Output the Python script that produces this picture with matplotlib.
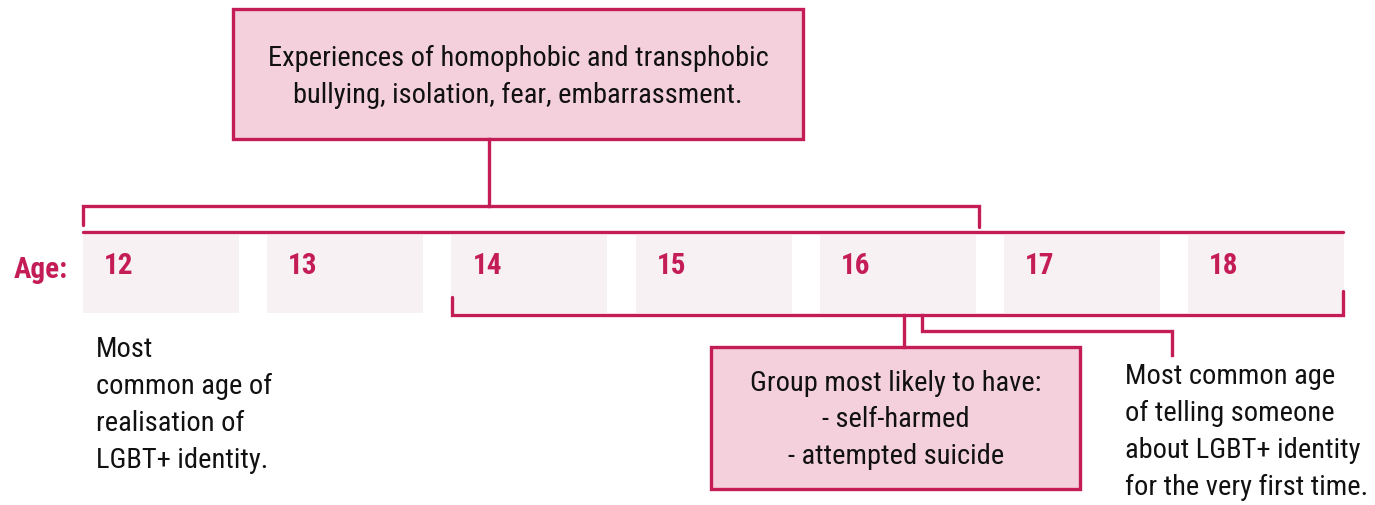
import matplotlib.pyplot as plt
from matplotlib.patches import Rectangle

# labels / text
ages = [12, 13, 14, 15, 16, 17, 18]
top_note = "Experiences of homophobic and transphobic\nbullying, isolation, fear, embarrassment."
group_note = "Group most likely to have:\n- self-harmed\n- attempted suicide"
realise_note = "Most\ncommon age of\nrealisation of\nLGBT+ identity."
telling_note = "Most common age\nof telling someone\nabout LGBT+ identity\nfor the very first time."

red = '#c41c56'
pink = '#f3d0dc'
pale = '#f8f1f4'
font = ['Roboto Condensed', 'DejaVu Sans']
lw = 2.4
fs = 20.5
ls = 1.47

fig = plt.figure(figsize=(13.75, 5.06), dpi=100)
ax = fig.add_axes([0, 0, 1, 1])
ax.set_xlim(0, 1375)
ax.set_ylim(506, 0)
ax.axis('off')

# age row
x0, step, w = 83, 184.2, 156
for i, a in enumerate(ages):
    x = x0 + i * step
    ax.add_patch(Rectangle((x, 236), w, 78, facecolor=pale, edgecolor='none'))
    ax.text(x + 21, 266, str(a), color=red, fontsize=21, fontweight='bold',
            family=font, va='center', ha='left')
ax.text(14, 270, "Age:", color=red, fontsize=21, fontweight='bold',
        family=font, va='center', ha='left')

# top line over the row
ax.plot([83, 1343], [233, 233], color=red, lw=lw, solid_capstyle='round')

# top bracket 12-16
ax.plot([83, 83, 979, 979], [226, 207, 207, 228], color=red, lw=lw,
        solid_capstyle='round', solid_joinstyle='miter')
ax.plot([489, 489], [140, 207], color=red, lw=lw)

# top box
ax.add_patch(Rectangle((233, 10), 570, 130, facecolor=pink, edgecolor=red, lw=lw))
ax.text(518, 77, top_note, family=font, fontsize=fs, ha='center', va='center',
        linespacing=ls, color='#111111')

# bottom bracket 14-18
ax.plot([452, 452, 1343, 1343], [298, 316, 316, 292], color=red, lw=lw,
        solid_capstyle='round', solid_joinstyle='miter')
ax.plot([904, 904], [316, 348], color=red, lw=lw)
ax.plot([922, 922, 1172, 1172], [316, 332, 332, 356], color=red, lw=lw,
        solid_joinstyle='miter')

# group box
ax.add_patch(Rectangle((711, 348), 369, 142, facecolor=pink, edgecolor=red, lw=lw))
ax.text(896, 420, group_note, family=font, fontsize=fs, ha='center', va='center',
        linespacing=ls, color='#111111')

# side notes
ax.text(96, 405, realise_note, family=font, fontsize=fs, ha='left', va='center',
        linespacing=ls, color='#111111')
ax.text(1125, 432, telling_note, family=font, fontsize=fs, ha='left', va='center',
        linespacing=ls, color='#111111')

fig.savefig('out.png', dpi=100)
